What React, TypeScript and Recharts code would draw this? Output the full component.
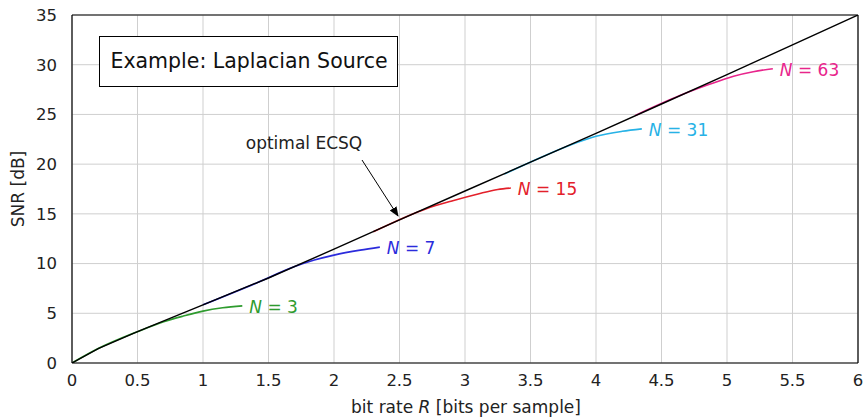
import { LineChart, Line, XAxis, YAxis, CartesianGrid, ReferenceLine } from 'recharts';

const FONT = '"DejaVu Sans", "Open Sans", sans-serif';

const xTicks = [0, 0.5, 1, 1.5, 2, 2.5, 3, 3.5, 4, 4.5, 5, 5.5, 6];
const yTicks = [0, 5, 10, 15, 20, 25, 30, 35];

// optimal ECSQ
const ecsqR = [0, 0.2, 0.5, 1, 1.5, 2, 2.5, 3, 3.5, 4, 4.5, 5, 5.5, 6];
const ecsqSnr = [0, 1.45, 3.15, 5.85, 8.55, 11.45, 14.4, 17.3, 20.2, 23.1, 26.05, 29.0, 32.0, 35.0];

// quantizers with N levels
const n3R = [0, 0.2, 0.5, 0.7, 0.85, 1.0, 1.15, 1.3];
const n3Snr = [0, 1.45, 3.15, 4.15, 4.72, 5.22, 5.55, 5.75];
const n7R = [1.0, 1.4, 1.7, 1.85, 2.0, 2.2, 2.35];
const n7Snr = [5.85, 8.0, 9.7, 10.35, 10.85, 11.35, 11.65];
const n15R = [2.3, 2.7, 2.9, 3.1, 3.25, 3.35];
const n15Snr = [13.2, 15.5, 16.3, 17.0, 17.45, 17.6];
const n31R = [3.3, 3.6, 3.8, 4.0, 4.2, 4.35];
const n31Snr = [19.0, 20.8, 21.9, 22.8, 23.3, 23.55];
const n63R = [4.3, 4.64, 4.85, 5.05, 5.2, 5.35];
const n63Snr = [24.9, 26.9, 27.95, 28.85, 29.3, 29.6];

const zip = (r: number[], s: number[]) => r.map((v, i) => ({ r: v, snr: s[i] }));

const curves = [
  { name: '3', color: '#2e9b2e', data: zip(n3R, n3Snr) },
  { name: '7', color: '#2b2bdc', data: zip(n7R, n7Snr) },
  { name: '15', color: '#e3202a', data: zip(n15R, n15Snr) },
  { name: '31', color: '#27b2e6', data: zip(n31R, n31Snr) },
  { name: '63', color: '#e8258c', data: zip(n63R, n63Snr) },
];

const ecsq = zip(ecsqR, ecsqSnr);

function endLabel(color: string, n: string, count: number) {
  return (props: any) => {
    if (props.index !== count - 1) return null;
    return (
      <text x={props.x + 7} y={props.y + 7} fill={color} fontSize={17} fontFamily={FONT}>
        <tspan fontStyle="italic">N</tspan>
        <tspan>{' = ' + n}</tspan>
      </text>
    );
  };
}

export default function App() {
  return (
    <div style={{ position: 'absolute', left: 0, top: 0, width: 864, height: 419, background: '#fff' }}>
      <LineChart width={864} height={419} margin={{ top: 15, right: 6, bottom: 0, left: 0 }}>
        <CartesianGrid stroke="#cfcfcf" strokeWidth={1} />
        <XAxis
          type="number"
          dataKey="r"
          domain={[0, 6]}
          ticks={xTicks}
          height={56}
          tickLine={false}
          axisLine={{ stroke: '#000', strokeWidth: 1.2 }}
          tick={{ fill: '#222', fontSize: 16.5, fontFamily: FONT }}
          tickMargin={5}
          allowDataOverflow
          label={() => (
            <text x={466} y={413} textAnchor="middle" fill="#222" fontSize={17} fontFamily={FONT}>
              bit rate <tspan fontStyle="italic">R</tspan> [bits per sample]
            </text>
          )}
        />
        <YAxis
          type="number"
          domain={[0, 35]}
          ticks={yTicks}
          width={72}
          tickLine={false}
          axisLine={{ stroke: '#000', strokeWidth: 1.2 }}
          tick={{ fill: '#222', fontSize: 16.5, fontFamily: FONT }}
          tickMargin={9}
          allowDataOverflow
          label={() => (
            <text
              x={24}
              y={189}
              textAnchor="middle"
              fill="#222"
              fontSize={17}
              fontFamily={FONT}
              transform="rotate(-90 24 189)"
            >
              SNR [dB]
            </text>
          )}
        />
        <ReferenceLine x={6} stroke="#000" strokeWidth={1.2} />
        <ReferenceLine y={35} stroke="#000" strokeWidth={1.2} />
        {curves.map(c => (
          <Line
            key={c.name}
            data={c.data}
            dataKey="snr"
            type="monotone"
            stroke={c.color}
            strokeWidth={1.6}
            dot={false}
            isAnimationActive={false}
            label={endLabel(c.color, c.name, c.data.length)}
          />
        ))}
        <Line
          data={ecsq}
          dataKey="snr"
          type="linear"
          stroke="#000"
          strokeWidth={1.4}
          dot={false}
          isAnimationActive={false}
        />
      </LineChart>
      <svg width={864} height={419} style={{ position: 'absolute', left: 0, top: 0, pointerEvents: 'none' }}>
        <defs>
          <marker id="ah" markerWidth="10" markerHeight="10" refX="9" refY="5" orient="auto" markerUnits="userSpaceOnUse">
            <path d="M0,1 L10,5 L0,9 Z" fill="#000" />
          </marker>
        </defs>
        <rect x={99.5} y={36.5} width={298} height={50} fill="#fff" stroke="#000" strokeWidth={1} />
        <text x={249} y={68} textAnchor="middle" fontSize={20.5} fontFamily={FONT} fill="#111">
          Example:  Laplacian Source
        </text>
        <text x={304} y={149} textAnchor="middle" fontSize={17} fontFamily={FONT} fill="#222">
          optimal ECSQ
        </text>
        <line x1={362} y1={160} x2={398} y2={216} stroke="#000" strokeWidth={1} markerEnd="url(#ah)" />
      </svg>
    </div>
  );
}
